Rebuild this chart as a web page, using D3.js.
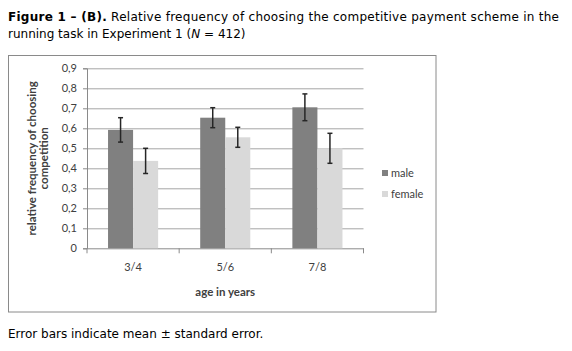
<!DOCTYPE html>
<html>
<head>
<meta charset="utf-8">
<script src="https://cdn.jsdelivr.net/npm/d3@7"></script>
<style>
  body { margin: 0; background: #fff; }
  svg text { fill: #404040; }
</style>
</head>
<body>
<div id="chart"></div>
<script>
// grouped bars with error bars

const categories = ['3/4', '5/6', '7/8'];
const series = ['male', 'female'];
const maleValues = [0.592, 0.653, 0.705];
const femaleValues = [0.437, 0.555, 0.500];
const maleErrors = [0.061, 0.050, 0.067];
const femaleErrors = [0.063, 0.050, 0.075];
const yTicks = [0, 0.1, 0.2, 0.3, 0.4, 0.5, 0.6, 0.7, 0.8, 0.9];
const colors = { male: '#808080', female: '#d9d9d9' };

const data = categories.map((c, i) => ({
  category: c,
  values: [
    { key: 'male', value: maleValues[i], err: maleErrors[i] },
    { key: 'female', value: femaleValues[i], err: femaleErrors[i] }
  ]
}));

const width = 572;
const height = 351;
const plot = { left: 87, right: 363.5, top: 68.3, bottom: 248.3 };
const chartFont = 'Lato, "Open Sans", sans-serif';
const textFont = '"DejaVu Sans", Verdana, sans-serif';

const svg = d3.select('#chart').append('svg')
  .attr('width', width)
  .attr('height', height);

// caption
const title = svg.append('text')
  .attr('x', 8)
  .attr('y', 21)
  .attr('font-family', textFont)
  .attr('font-size', 12)
  .attr('textLength', 551)
  .attr('lengthAdjust', 'spacing')
  .style('fill', '#000');
title.append('tspan').attr('font-weight', 'bold').text('Figure 1 \u2013 (B).');
title.append('tspan').text(' Relative frequency of choosing the competitive payment scheme in the');

const title2 = svg.append('text')
  .attr('x', 8)
  .attr('y', 38)
  .attr('font-family', textFont)
  .attr('font-size', 12)
  .style('fill', '#000');
title2.append('tspan').text('running task in Experiment 1 (');
title2.append('tspan').attr('font-style', 'italic').text('N');
title2.append('tspan').text(' = 412)');

svg.append('text')
  .attr('x', 8)
  .attr('y', 338)
  .attr('font-family', textFont)
  .attr('font-size', 12)
  .style('fill', '#000')
  .text('Error bars indicate mean \u00b1 standard error.');

// chart frame
svg.append('rect')
  .attr('x', 8.5)
  .attr('y', 55.5)
  .attr('width', 427.5)
  .attr('height', 256.5)
  .attr('fill', 'none')
  .attr('stroke', '#8a8a8a');

const xScale = d3.scaleBand()
  .domain(categories)
  .range([plot.left, plot.right]);

const xInner = d3.scaleBand()
  .domain(series)
  .range([0, xScale.bandwidth()])
  .paddingOuter(0.42 * 2)
  .paddingInner(0);

const yScale = d3.scaleLinear()
  .domain([0, 0.9])
  .range([plot.bottom, plot.top]);

// gridlines
svg.append('g')
  .attr('transform', `translate(${plot.left}, 0)`)
  .call(d3.axisLeft(yScale)
    .tickValues(yTicks.slice(1))
    .tickSize(-(plot.right - plot.left))
    .tickFormat(''))
  .call(g => g.select('.domain').remove())
  .call(g => g.selectAll('line').attr('stroke', '#a6a6a6'));

// y axis
svg.append('g')
  .attr('transform', `translate(${plot.left}, 0)`)
  .call(d3.axisLeft(yScale)
    .tickValues(yTicks)
    .tickSize(4)
    .tickPadding(6)
    .tickFormat(d => d3.format('.1f')(d).replace('.', ',').replace(/^0,0$/, '0')))
  .call(g => g.select('.domain').attr('stroke', '#8a8a8a'))
  .call(g => g.selectAll('line').attr('stroke', '#8a8a8a'))
  .call(g => g.selectAll('text')
    .attr('font-family', chartFont)
    .attr('font-size', 11)
    .style('fill', '#404040'));

// x axis
svg.append('g')
  .attr('transform', `translate(0, ${plot.bottom})`)
  .call(d3.axisBottom(xScale).tickSize(0).tickPadding(15))
  .call(g => g.select('.domain').attr('stroke', '#8a8a8a'))
  .call(g => g.selectAll('text')
    .attr('font-family', chartFont)
    .attr('font-size', 11)
    .style('fill', '#404040'));

// x tick marks at category boundaries
svg.append('g')
  .selectAll('line')
  .data(categories.concat(['end']))
  .join('line')
  .attr('x1', (d, i) => plot.left + i * xScale.bandwidth())
  .attr('x2', (d, i) => plot.left + i * xScale.bandwidth())
  .attr('y1', plot.bottom)
  .attr('y2', plot.bottom + 5)
  .attr('stroke', '#8a8a8a');

// bars
const groups = svg.append('g')
  .selectAll('g')
  .data(data)
  .join('g')
  .attr('transform', d => `translate(${xScale(d.category)}, 0)`);

groups.selectAll('rect')
  .data(d => d.values)
  .join('rect')
  .attr('x', d => xInner(d.key))
  .attr('y', d => yScale(d.value))
  .attr('width', xInner.bandwidth())
  .attr('height', d => plot.bottom - yScale(d.value))
  .attr('fill', d => colors[d.key]);

// error bars
const errs = groups.selectAll('g.err')
  .data(d => d.values)
  .join('g')
  .attr('class', 'err')
  .attr('stroke', '#262626')
  .attr('stroke-width', 1.5);

const cx = d => xInner(d.key) + xInner.bandwidth() / 2;

errs.append('line')
  .attr('x1', cx).attr('x2', cx)
  .attr('y1', d => yScale(d.value + d.err))
  .attr('y2', d => yScale(d.value - d.err));

errs.append('line')
  .attr('x1', d => cx(d) - 2.5).attr('x2', d => cx(d) + 2.5)
  .attr('y1', d => yScale(d.value + d.err))
  .attr('y2', d => yScale(d.value + d.err));

errs.append('line')
  .attr('x1', d => cx(d) - 2.5).attr('x2', d => cx(d) + 2.5)
  .attr('y1', d => yScale(d.value - d.err))
  .attr('y2', d => yScale(d.value - d.err));

// axis titles
svg.append('text')
  .attr('transform', `translate(36, ${(plot.top + plot.bottom) / 2}) rotate(-90)`)
  .attr('text-anchor', 'middle')
  .attr('font-family', chartFont)
  .attr('font-size', 11.5)
  .attr('font-weight', 'bold')
  .selectAll('tspan')
  .data(['relative frequency of choosing', 'competition'])
  .join('tspan')
  .attr('x', 0)
  .attr('dy', (d, i) => i === 0 ? 0 : 12)
  .text(d => d);

svg.append('text')
  .attr('x', (plot.left + plot.right) / 2)
  .attr('y', 296)
  .attr('text-anchor', 'middle')
  .attr('font-family', chartFont)
  .attr('font-size', 11.5)
  .attr('font-weight', 'bold')
  .text('age in years');

// legend
const legend = svg.append('g')
  .selectAll('g')
  .data(series)
  .join('g')
  .attr('transform', (d, i) => `translate(382, ${173 + i * 21})`);

legend.append('rect')
  .attr('x', 0)
  .attr('y', -3)
  .attr('width', 6)
  .attr('height', 6)
  .attr('fill', d => colors[d]);

legend.append('text')
  .attr('x', 9)
  .attr('y', 3.5)
  .attr('font-family', chartFont)
  .attr('font-size', 11)
  .text(d => d);
</script>
</body>
</html>
